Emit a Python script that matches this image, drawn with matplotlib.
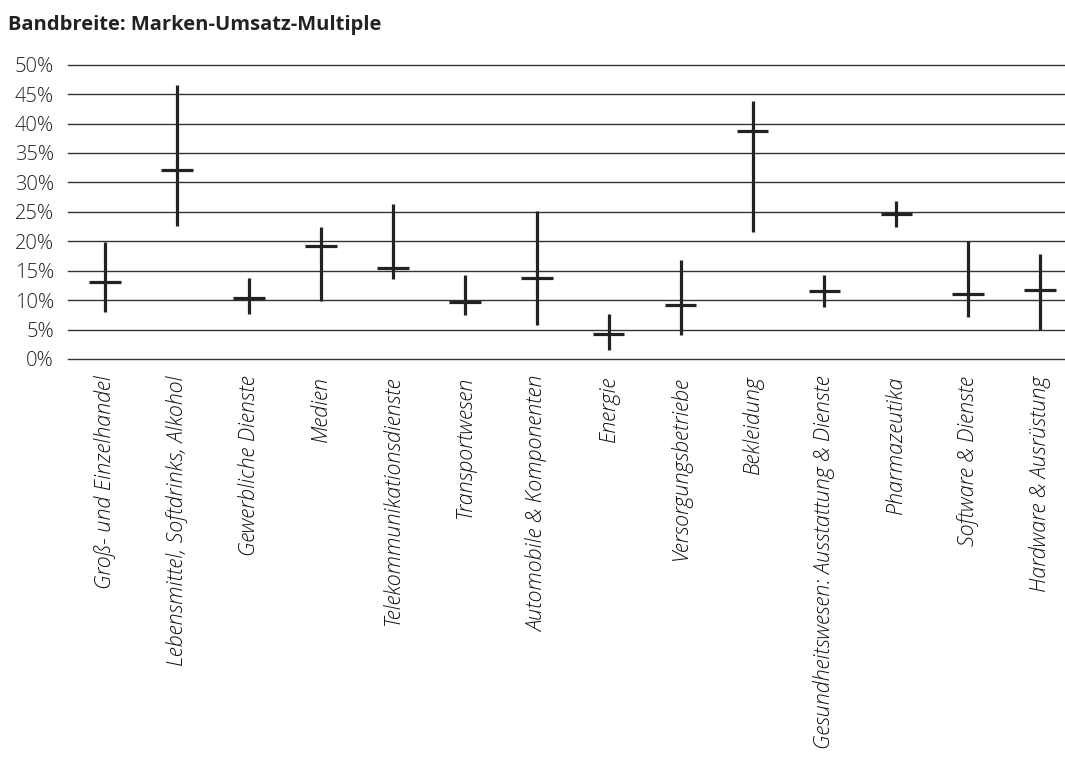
import matplotlib
matplotlib.use("Agg")
import matplotlib.pyplot as plt
from matplotlib.ticker import FuncFormatter

plt.rcParams["font.family"] = ["Open Sans", "DejaVu Sans"]

categories = [
    "Groß- und Einzelhandel",
    "Lebensmittel, Softdrinks, Alkohol",
    "Gewerbliche Dienste",
    "Medien",
    "Telekommunikationsdienste",
    "Transportwesen",
    "Automobile & Komponenten",
    "Energie",
    "Versorgungsbetriebe",
    "Bekleidung",
    "Gesundheitswesen: Ausstattung & Dienste",
    "Pharmazeutika",
    "Software & Dienste",
    "Hardware & Ausrüstung",
]
high = [19.9, 46.5, 13.8, 22.5, 26.3, 14.2, 25.1, 7.7, 16.9, 43.9, 14.2, 26.9, 20.1, 17.9]
low = [8.0, 22.6, 7.6, 9.9, 13.6, 7.5, 5.8, 1.5, 4.0, 21.5, 8.8, 22.5, 7.1, 5.0]
mid = [13.1, 32.1, 10.3, 19.2, 15.4, 9.6, 13.8, 4.2, 9.1, 38.7, 11.5, 24.7, 11.1, 11.7]

W, H = 1065, 762
fig = plt.figure(figsize=(W / 100, H / 100), dpi=100)
ax = fig.add_axes([68 / W, 1 - 359 / H, (1064 - 68) / W, (359 - 64.7) / H])

x = list(range(len(categories)))
ax.vlines(x, low, high, color="#222222", linewidth=2.3, zorder=3)
ax.hlines(mid, [i - 0.22 for i in x], [i + 0.22 for i in x], color="#222222", linewidth=2.3, zorder=3)

ax.set_ylim(0, 50)
ax.set_xlim(-0.515, 13.33)
ax.set_yticks(range(0, 51, 5))
ax.yaxis.set_major_formatter(FuncFormatter(lambda v, p: f"{int(v)}%"))
ax.grid(axis="y", color="#333333", linewidth=1.0, zorder=1)
ax.grid(axis="x", visible=False)
for s in ax.spines.values():
    s.set_visible(False)
ax.tick_params(axis="y", length=0, pad=10, labelsize=14.5, labelcolor="#222222")
ax.tick_params(axis="x", length=0, pad=12)
for lab in ax.get_yticklabels():
    lab.set_fontweight("light")
ax.set_xticks(x)
ax.set_xticklabels(categories, rotation=90, fontstyle="italic", fontsize=15.5,
                   fontweight="light", color="#111111", va="top", ha="center")
for t in ax.get_ygridlines():
    t.set_clip_on(False)

fig.text(8 / W, 1 - 25 / H, "Bandbreite: Marken-Umsatz-Multiple", fontsize=14.5,
         fontweight="bold", color="#222222", va="center", ha="left")

fig.savefig("out.png", dpi=100)
